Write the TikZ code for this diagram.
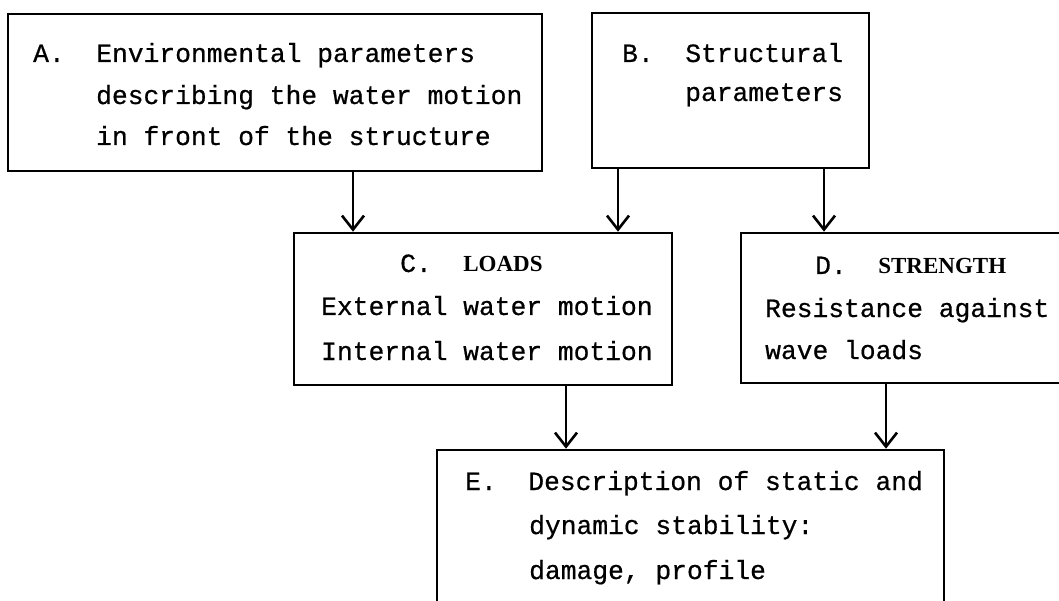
\documentclass[tikz,border=0pt]{standalone}
\usepackage{fontspec}
\setmonofont{Liberation Mono}[FakeBold=0.6]
\newfontfamily\boldserif{Liberation Serif}
\usetikzlibrary{arrows.meta}
\tikzstyle{boxes} = [rectangle, draw=black, line width=2.6pt, inner sep=0pt]
\tikzstyle{arrow} = [line width=2.6pt, -{Straight Barb[length=14pt,width=22pt]}]
\tikzstyle{txt} = [anchor=base west, inner sep=0pt, font=\ttfamily\fontsize{26.3}{42}\selectfont]
\newcommand{\heavy}[1]{{\boldserif\bfseries\fontsize{23}{28}\selectfont #1}}

\begin{document}
\begin{tikzpicture}[x=1pt,y=-1pt]
        \useasboundingbox (0,0) rectangle (1059,601);
        \clip (0,0) rectangle (1059,601);

        \draw (275,92.5) node[boxes, minimum width=534pt, minimum height=157pt] (A) {}
        (730.5,90.5) node[boxes, minimum width=277pt, minimum height=155pt] (B) {}
        (483,309) node[boxes, minimum width=378pt, minimum height=152pt] (C) {}
        (908,308) node[boxes, minimum width=334pt, minimum height=150pt] (D) {}
        (690.5,535) node[boxes, minimum width=507pt, minimum height=170pt] (E) {};

        \node[txt] (a1) at (33,62) {A.~~Environmental parameters};
        \node[txt] (a2) at (96,104) {describing the water motion};
        \node[txt] (a3) at (96,145) {in front of the structure};

        \node[txt] (b1) at (622,62) {B.~~Structural};
        \node[txt] (b2) at (685,101) {parameters};

        \node[txt] (c1) at (400,272) {C.~~\heavy{LOADS}};
        \node[txt] (c2) at (321,315) {External water motion};
        \node[txt] (c3) at (321,360) {Internal water motion};

        \node[txt] (d1) at (815,274) {D.~~\heavy{STRENGTH}};
        \node[txt] (d2) at (765,317) {Resistance against};
        \node[txt] (d3) at (765,359) {wave loads};

        \node[txt] (e1) at (465,490) {E.~~Description of static and};
        \node[txt] (e2) at (529,534) {dynamic stability:};
        \node[txt] (e3) at (529,579) {damage, profile};

        % arrow columns
        \coordinate (ac) at (353,0);
        \coordinate (bc) at (618,0);
        \coordinate (bd) at (824,0);
        \coordinate (ce) at (566,0);
        \coordinate (de) at (886,0);

        \draw[arrow] (ac |- A.south) -- (ac |- C.north);
        \draw[arrow] (bc |- B.south) -- (bc |- C.north);
        \draw[arrow] (bd |- B.south) -- (bd |- D.north);
        \draw[arrow] (ce |- C.south) -- (ce |- E.north);
        \draw[arrow] (de |- D.south) -- (de |- E.north);
    \end{tikzpicture}
\end{document}
